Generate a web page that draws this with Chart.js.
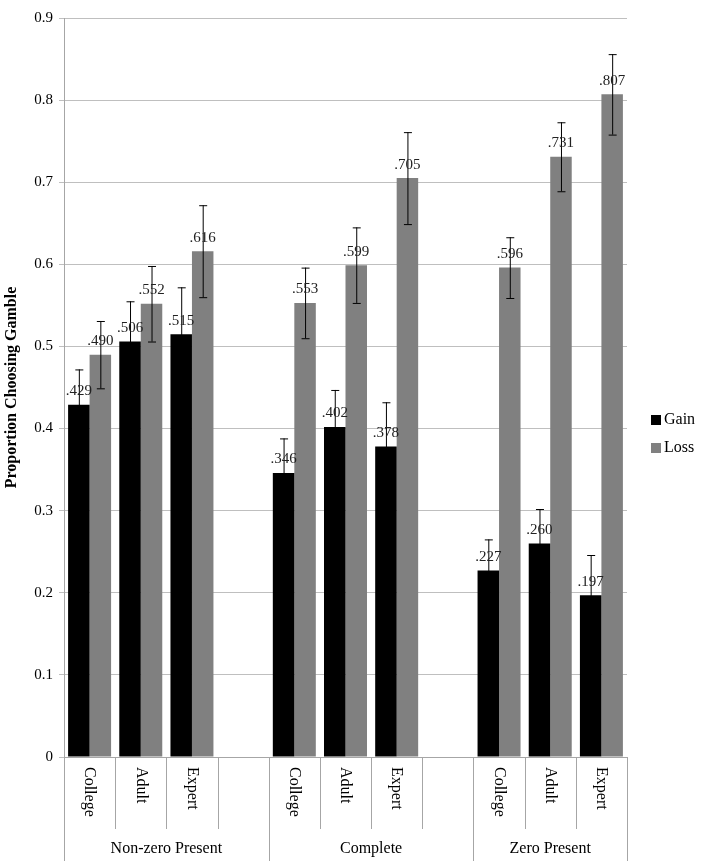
<!DOCTYPE html>
<html><head><meta charset="utf-8">
<script src="https://cdn.jsdelivr.net/npm/chart.js@4"></script>
<style>html,body{margin:0;padding:0;background:#fff}#w{width:714px;height:868px}</style>
</head><body><div id="w"><canvas id="c"></canvas></div>
<script>
const slots = ['College','Adult','Expert','','College','Adult','Expert','','College','Adult','Expert'];
const groups = ['Non-zero Present','Complete','Zero Present'];
const gain = [0.429,0.506,0.515,null,0.346,0.402,0.378,null,0.227,0.260,0.197];
const loss = [0.490,0.552,0.616,null,0.553,0.599,0.705,null,0.596,0.731,0.807];
const gainErr = [0.043,0.049,0.057,null,0.042,0.045,0.054,null,0.038,0.042,0.049];
const lossErr = [0.041,0.046,0.056,null,0.043,0.046,0.056,null,0.037,0.042,0.049];
const yTicks = [0,0.1,0.2,0.3,0.4,0.5,0.6,0.7,0.8,0.9];
const FONT = '"Liberation Serif", "Times New Roman", serif';

const extras = {
  id:'extras',
  afterDatasetsDraw(chart){
    const ctx = chart.ctx, x = chart.scales.x, y = chart.scales.y, ca = chart.chartArea;
    const errs = [gainErr, lossErr];
    ctx.save();
    chart.data.datasets.forEach((ds, di) => {
      const meta = chart.getDatasetMeta(di);
      meta.data.forEach((bar, i) => {
        const v = ds.data[i]; if (v == null) return;
        const e = errs[di][i];
        const yt = y.getPixelForValue(v + e), yb = y.getPixelForValue(v - e);
        ctx.strokeStyle = '#000'; ctx.lineWidth = 1;
        ctx.beginPath();
        ctx.moveTo(bar.x + 0.5, yt); ctx.lineTo(bar.x + 0.5, yb);
        ctx.moveTo(bar.x - 3.5, yt + 0.5); ctx.lineTo(bar.x + 4.5, yt + 0.5);
        ctx.moveTo(bar.x - 3.5, yb + 0.5); ctx.lineTo(bar.x + 4.5, yb + 0.5);
        ctx.stroke();
        ctx.fillStyle = '#222'; ctx.font = '15px ' + FONT;
        ctx.textAlign = 'center'; ctx.textBaseline = 'bottom';
        ctx.fillText(v.toFixed(3).replace(/^0/, ''), bar.x, bar.y - 6);
      });
    });
    // x axis
    const n = slots.length;
    const w = (x.getPixelForValue(1) - x.getPixelForValue(0));
    ctx.strokeStyle = '#a6a6a6'; ctx.lineWidth = 1;
    ctx.beginPath();
    ctx.moveTo(ca.left, ca.bottom + 0.5); ctx.lineTo(ca.right, ca.bottom + 0.5);
    for (let i = 0; i <= n; i++) {
      const px = Math.round(x.getPixelForValue(i) - w / 2) + 0.5;
      const long = (i % 4 === 0) || i === n;
      ctx.moveTo(px, ca.bottom); ctx.lineTo(px, ca.bottom + (long ? 104 : 72));
    }
    ctx.stroke();
    ctx.fillStyle = '#000'; ctx.font = '16px ' + FONT;
    slots.forEach((s, i) => {
      if (!s) return;
      const px = x.getPixelForValue(i);
      ctx.save(); ctx.translate(px, ca.bottom + 10); ctx.rotate(Math.PI / 2);
      ctx.textAlign = 'left'; ctx.textBaseline = 'middle';
      ctx.fillText(s, 0, 0); ctx.restore();
    });
    groups.forEach((g, gi) => {
      const a = x.getPixelForValue(gi * 4) - w / 2;
      const b = x.getPixelForValue(Math.min(gi * 4 + 3, n - 1)) + w / 2;
      ctx.textAlign = 'center'; ctx.textBaseline = 'middle';
      ctx.fillText(g, (a + b) / 2, ca.bottom + 92);
    });
    // legend
    const lx = ca.right + 24;
    [['Gain', '#000'], ['Loss', '#808080']].forEach(([t, c], k) => {
      const ly = 420 + k * 28;
      ctx.fillStyle = c; ctx.fillRect(lx, ly - 5, 10, 10);
      ctx.fillStyle = '#000'; ctx.textAlign = 'left'; ctx.textBaseline = 'middle';
      ctx.fillText(t, lx + 13, ly);
    });
    ctx.restore();
  }
};

new Chart(document.getElementById('c'), {
  type: 'bar',
  data: { labels: slots, datasets: [
    { label: 'Gain', data: gain, backgroundColor: '#000000' },
    { label: 'Loss', data: loss, backgroundColor: '#808080' }
  ]},
  options: {
    responsive: true, maintainAspectRatio: false, animation: false,
    devicePixelRatio: 1,
    layout: { padding: { top: 18, right: 87, bottom: 111, left: 0 } },
    datasets: { bar: { categoryPercentage: 0.84, barPercentage: 1 } },
    plugins: { legend: { display: false }, tooltip: { enabled: false } },
    scales: {
      x: { grid: { display: false }, border: { display: false }, ticks: { display: false },
           afterFit: s => { s.height = 0; } },
      y: { min: 0, max: 0.9, afterBuildTicks: s => { s.ticks = yTicks.map(v => ({ value: v })); },
           afterFit: s => { s.width = 64; },
           grid: { color: '#bfbfbf', drawTicks: true, tickLength: 5 },
           border: { color: '#a6a6a6' },
           ticks: { color: '#000', font: { family: FONT, size: 15 }, padding: 6,
                    callback: v => String(Math.round(v * 10) / 10) },
           title: { display: true, text: 'Proportion Choosing Gamble', color: '#000',
                    font: { family: FONT, size: 16, weight: 'bold' }, padding: 2 } }
    }
  },
  plugins: [extras]
});
</script></body></html>
